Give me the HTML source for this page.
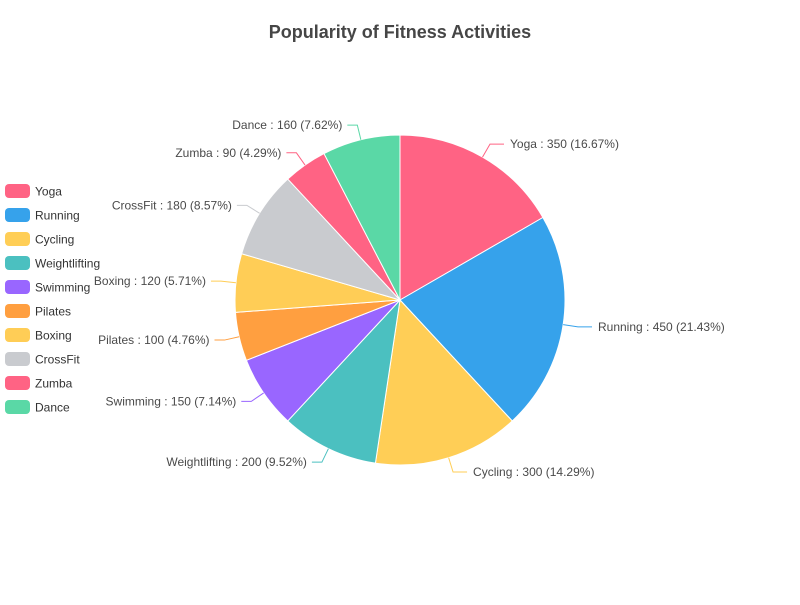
<!DOCTYPE html>
<html><head><meta charset="utf-8"><style>
body{margin:0;background:#fff;font-family:"Liberation Sans",sans-serif}
</style></head><body>
<svg id="c" width="800" height="600" xmlns="http://www.w3.org/2000/svg">
<text x="400" y="38" text-anchor="middle" font-size="18" font-weight="bold" fill="#464646">Popularity of Fitness Activities</text>
</svg>
<script>
const categories=["Yoga","Running","Cycling","Weightlifting","Swimming","Pilates","Boxing","CrossFit","Zumba","Dance"];
const values=[350,450,300,200,150,100,120,180,90,160];
const colors=["#ff6384","#36a2eb","#ffce56","#4bc0c0","#9966ff","#ff9f40","#ffcd56","#c9cbcf","#ff6384","#5ad8a6"];
const svg=document.getElementById('c'),NS="http://www.w3.org/2000/svg";
const cx=400,cy=300,r=165;
const total=values.reduce((a,b)=>a+b,0);
function pt(t,rr){return [cx+rr*Math.sin(t),cy-rr*Math.cos(t)];}
function mk(tag,attrs){const e=document.createElementNS(NS,tag);for(const k in attrs)e.setAttribute(k,attrs[k]);svg.appendChild(e);return e;}
let a=0;
values.forEach((v,i)=>{
  const da=v/total*2*Math.PI,a0=a,a1=a+da;a=a1;
  const p0=pt(a0,r),p1=pt(a1,r);
  const s=mk('path',{d:`M${cx},${cy}L${p0[0]},${p0[1]}A${r},${r} 0 ${da>Math.PI?1:0} 1 ${p1[0]},${p1[1]}Z`,fill:colors[i],stroke:'#fff','stroke-width':1});
  
  
  const m=(a0+a1)/2,e=pt(m,r),k=pt(m,r+15),right=Math.sin(m)>=0;
  const hx=k[0]+(right?14:-10);
  const l=mk('polyline',{points:`${e[0]},${e[1]} ${k[0]},${k[1]} ${hx},${k[1]}`,fill:'none',stroke:colors[i],'stroke-width':1});
  
  
  const t=mk('text',{x:hx+(right?6:-5),y:k[1]+4,'text-anchor':right?'start':'end','font-size':12,fill:'#4a4a4a'});
  t.textContent=`${categories[i]} : ${v} (${(v/total*100).toFixed(2)}%)`;
  
  
});
categories.forEach((c,i)=>{
  const y=184+i*24;
  const rc=mk('rect',{x:5,y:y,width:25,height:14,rx:4,fill:colors[i]});
  
  
  const t=mk('text',{x:35,y:y+11.5,'font-size':12,fill:'#333'});
  t.textContent=c;
  
  
});
</script>
</body></html>
